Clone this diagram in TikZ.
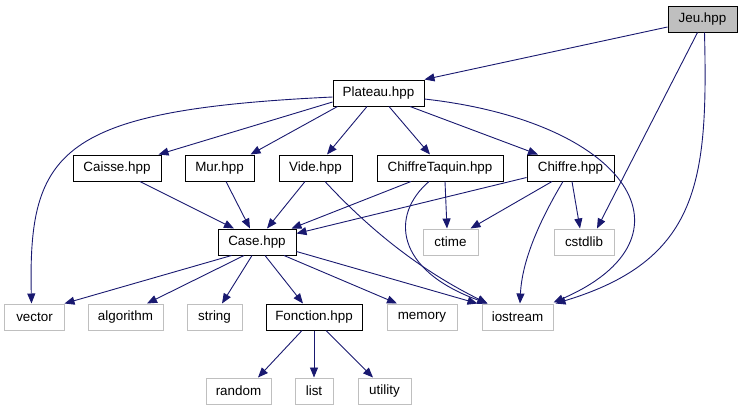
\documentclass[tikz,border=0pt]{standalone}
\usepackage{fontspec}
\setmainfont{Liberation Sans}
\usetikzlibrary{arrows.meta,calc}
\definecolor{edgeblue}{HTML}{191970}
\definecolor{greyext}{HTML}{BFBFBF}
\tikzset{
  filebox/.style={draw=black, line width=1bp, minimum height=26bp, inner sep=0pt,
    font=\fontsize{13.4bp}{15bp}\selectfont, text=black},
  extbox/.style={filebox, draw=greyext},
  rootbox/.style={filebox, fill=greyext},
  dep/.style={draw=edgeblue, line width=0.9bp, -{Triangle[length=10bp,width=8bp]}, fill=none},
}
\begin{document}
\begin{tikzpicture}[x=1bp,y=-1bp]
\useasboundingbox (0,0) rectangle (743,411);
% nodes
\node[rootbox, minimum width=69bp] (jeu) at (702.5,19) {Jeu.hpp};
\node[filebox, minimum width=91bp] (plateau) at (378.5,93) {Plateau.hpp};
\node[filebox, minimum width=88bp] (caisse) at (117,168) {Caisse.hpp};
\node[filebox, minimum width=69bp] (mur) at (219.5,168) {Mur.hpp};
\node[filebox, minimum width=73bp] (vide) at (315.5,168) {Vide.hpp};
\node[filebox, minimum width=126bp] (ctaquin) at (440,168) {ChiffreTaquin.hpp};
\node[filebox, minimum width=87bp] (chiffre) at (570.5,168) {Chiffre.hpp};
\node[filebox, minimum width=78bp] (case) at (257,242) {Case.hpp};
\node[extbox, minimum width=55bp] (ctime) at (450.5,242) {ctime};
\node[extbox, minimum width=60bp] (cstdlib) at (584,242) {cstdlib};
\node[extbox, minimum width=59bp] (vector) at (34.5,317) {vector};
\node[extbox, minimum width=75bp] (algorithm) at (125.5,317) {algorithm};
\node[extbox, minimum width=55bp] (string) at (214.5,317) {string};
\node[filebox, minimum width=96bp] (fonction) at (314,317) {Fonction.hpp};
\node[extbox, minimum width=70bp] (memory) at (422,317) {memory};
\node[extbox, minimum width=71bp] (iostream) at (517.5,317) {iostream};
\node[extbox, minimum width=65bp] (random) at (238.5,391) {random};
\node[extbox, minimum width=38bp] (list) at (314,391) {list};
\node[extbox, minimum width=53bp] (utility) at (384.5,391) {utility};
% edges from Jeu
\draw[dep] ($(jeu.west)+(0,8)$) -- (plateau.north east);
\draw[dep] ($(jeu.south)+(-5,0)$) -- ($(cstdlib.north)+(13,0)$);
\draw[dep] ($(jeu.south)+(2,0)$) .. controls (708,180) and (700,260) .. ($(iostream.north east)+(2,0)$);
% edges from Plateau
\draw[dep] ($(plateau.west)+(0,4)$) .. controls (60,110) and (28,150) .. ($(vector.north)+(-3,0)$);
\draw[dep] ($(plateau.west)+(0,9)$) -- ($(caisse.north east)+(-3,0)$);
\draw[dep] ($(plateau.south west)+(5,0)$) -- ($(mur.north east)+(-4,0)$);
\draw[dep] ($(plateau.south)+(-11.5,0)$) -- ($(vide.north)+(11.5,0)$);
\draw[dep] ($(plateau.south)+(10.5,0)$) -- ($(ctaquin.north)+(-10,0)$);
\draw[dep] ($(plateau.south)+(31.5,0)$) -- ($(chiffre.north)+(-32.5,0)$);
\draw[dep] ($(plateau.east)+(0,6)$) .. controls (630,122) and (702,238) .. ($(iostream.north east)+(0,-1)$);
% second row
\draw[dep] ($(caisse.south)+(23,0)$) -- ($(case.north)+(-23,0)$);
\draw[dep] ($(mur.south)+(6.5,0)$) -- ($(case.north)+(-7,0)$);
\draw[dep] ($(vide.south)+(-10.5,0)$) -- ($(case.north)+(10,0)$);
\draw[dep] ($(vide.south)+(9.5,0)$) .. controls (370,230) and (420,270) .. ($(iostream.north west)+(6,0)$);
\draw[dep] ($(ctaquin.south)+(-29,0)$) -- ($(case.north east)+(-5,0)$);
\draw[dep] ($(ctaquin.south)+(5,0)$) -- ($(ctime.north)+(-3.5,0)$);
\draw[dep] ($(ctaquin.south)+(-11,0)$) .. controls (390,215) and (395,270) .. ($(iostream.north west)+(6,0)$);
\draw[dep] ($(chiffre.south west)+(0,-4)$) -- ($(case.north east)+(0,5)$);
\draw[dep] ($(chiffre.south)+(-18.5,0)$) -- ($(ctime.north east)+(-8,0)$);
\draw[dep] ($(chiffre.south)+(1.5,0)$) -- ($(cstdlib.north)+(-4,0)$);
\draw[dep] ($(chiffre.south)+(-7.5,0)$) .. controls (540,220) and (522,260) .. ($(iostream.north)+(2.5,0)$);
% from Case
\draw[dep] ($(case.south west)+(14,0)$) -- (vector.north east);
\draw[dep] ($(case.south)+(-13,0)$) -- ($(algorithm.north)+(21.5,0)$);
\draw[dep] ($(case.south)+(-5,0)$) -- ($(string.north)+(7.5,0)$);
\draw[dep] ($(case.south)+(8,0)$) -- ($(fonction.north)+(-11,0)$);
\draw[dep] ($(case.south)+(27,0)$) -- ($(memory.north)+(-25,0)$);
\draw[dep] ($(case.south east)+(0,-4)$) -- ($(iostream.north west)+(-4,0)$);
% from Fonction
\draw[dep] ($(fonction.south)+(-12,0)$) -- ($(random.north)+(19.5,0)$);
\draw[dep] (fonction.south) -- (list.north);
\draw[dep] ($(fonction.south)+(12,0)$) -- ($(utility.north)+(-11.5,0)$);
\end{tikzpicture}
\end{document}
